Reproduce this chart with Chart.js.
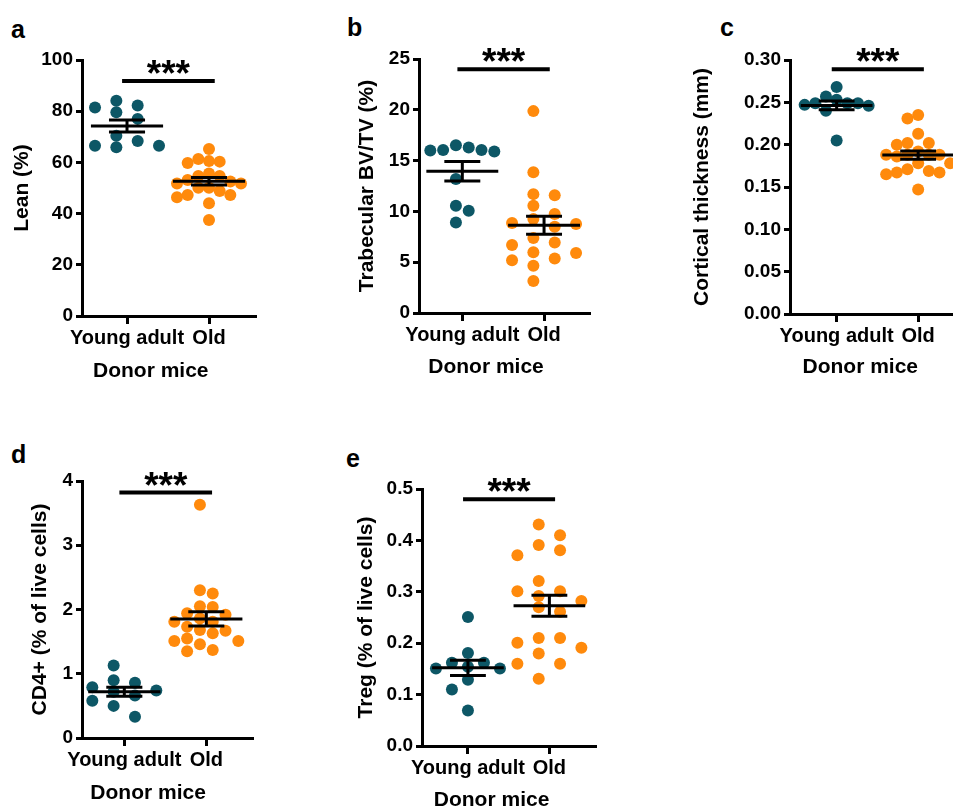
<!DOCTYPE html>
<html>
<head>
<meta charset="utf-8">
<script src="https://cdn.jsdelivr.net/npm/chart.js@4.4.1/dist/chart.umd.min.js"></script>
<style>
  body { margin: 0; width: 953px; height: 808px; overflow: hidden; background: #fff; position: relative; font-family: "Liberation Sans", Arial, sans-serif; }
  .panel { position: absolute; }
  .letter { position: absolute; font-weight: bold; font-size: 25px; color: #000; line-height: 1; }
</style>
</head>
<body>
<div class="letter" style="left:11px;top:17px">a</div>
<div class="letter" style="left:347px;top:15px">b</div>
<div class="letter" style="left:720px;top:15px">c</div>
<div class="letter" style="left:11px;top:442px">d</div>
<div class="letter" style="left:346px;top:446px">e</div>

<div class="panel" style="left:0px;top:20px"><canvas id="chartA" width="265" height="370"></canvas></div>
<div class="panel" style="left:340px;top:20px"><canvas id="chartB" width="260" height="370"></canvas></div>
<div class="panel" style="left:680px;top:20px"><canvas id="chartC" width="295" height="370"></canvas></div>
<div class="panel" style="left:0px;top:440px"><canvas id="chartD" width="262" height="370"></canvas></div>
<div class="panel" style="left:340px;top:440px"><canvas id="chartE" width="265" height="380"></canvas></div>

<script>
// data
var groups = ["Young adult", "Old"];
var xTitle = "Donor mice";

var leanYoung = [82.2, 81.4, 84.1, 77.0, 79.6, 70.4, 65.9, 68.4, 66.5, 66.5];
var leanOld = [65.2, 60.3, 61.3, 59.8, 60.5, 54.7, 55.7, 54.7, 50.1, 52.5, 51.8, 53.1, 51.8, 50.1, 47.3, 46.4, 48.8, 47.3, 44.0, 37.5];
var leanTicks = [0, 20, 40, 60, 80, 100];

var bvtvYoung = [16.0, 16.05, 15.9, 16.3, 16.5, 16.05, 13.2, 10.55, 10.07, 8.9];
var bvtvOld = [19.87, 13.85, 11.7, 11.6, 10.56, 9.74, 8.85, 9.24, 8.5, 8.75, 7.37, 6.7, 6.94, 5.99, 5.9, 5.2, 5.36, 4.64, 3.16];
var bvtvTicks = [0, 5, 10, 15, 20, 25];

var ctYoung = [0.249, 0.257, 0.268, 0.253, 0.246, 0.240, 0.249, 0.249, 0.247, 0.205];
var ctOld = [0.231, 0.235, 0.213, 0.202, 0.200, 0.202, 0.188, 0.188, 0.192, 0.188, 0.188, 0.178, 0.178, 0.169, 0.167, 0.167, 0.165, 0.171, 0.147, 0.186];
var ctTicks = [0, 0.05, 0.10, 0.15, 0.20, 0.25, 0.30];

var cd4Young = [0.90, 0.72, 0.79, 1.13, 0.58, 0.50, 0.33, 0.86, 0.66, 0.74];
var cd4Old = [2.30, 2.25, 2.04, 2.05, 1.92, 1.94, 1.81, 1.86, 1.81, 1.63, 1.68, 1.73, 1.67, 1.55, 1.51, 1.46, 1.51, 1.37, 1.35, 3.63];
var cd4Ticks = [0, 1, 2, 3, 4];

var tregYoung = [0.251, 0.162, 0.162, 0.181, 0.151, 0.151, 0.154, 0.129, 0.110, 0.069];
var tregOld = [0.431, 0.410, 0.391, 0.381, 0.371, 0.321, 0.301, 0.301, 0.292, 0.282, 0.270, 0.261, 0.201, 0.210, 0.210, 0.191, 0.180, 0.160, 0.160, 0.131];
var tregTicks = [0, 0.1, 0.2, 0.3, 0.4, 0.5];

// height of the significance bar, in axis units
var sigLevels = [91.8, 24.0, 0.289, 3.82, 0.48];

var teal = "#0d5766";
var orange = "#ff8a0c";
var fontFamily = "'Liberation Sans', Arial, sans-serif";

// mean and SEM lines over the dots
var meanSemPlugin = {
  id: "meanSem",
  afterDatasetsDraw: function (chart) {
    var ctx = chart.ctx;
    var xs = chart.scales.x;
    var ys = chart.scales.y;
    ctx.save();
    ctx.strokeStyle = "#000";
    ctx.lineWidth = 3;
    chart.data.datasets.forEach(function (ds, i) {
      var vals = ds.values;
      var n = vals.length;
      var mean = vals.reduce(function (a, b) { return a + b; }, 0) / n;
      var sd = Math.sqrt(vals.reduce(function (a, b) { return a + (b - mean) * (b - mean); }, 0) / (n - 1));
      var sem = sd / Math.sqrt(n);
      var cx = i + 1;
      var yM = ys.getPixelForValue(mean);
      var yHi = ys.getPixelForValue(mean + sem);
      var yLo = ys.getPixelForValue(mean - sem);
      ctx.beginPath();
      ctx.moveTo(xs.getPixelForValue(cx - 0.44), yM);
      ctx.lineTo(xs.getPixelForValue(cx + 0.44), yM);
      ctx.moveTo(xs.getPixelForValue(cx), yHi);
      ctx.lineTo(xs.getPixelForValue(cx), yLo);
      ctx.moveTo(xs.getPixelForValue(cx - 0.22), yHi);
      ctx.lineTo(xs.getPixelForValue(cx + 0.22), yHi);
      ctx.moveTo(xs.getPixelForValue(cx - 0.22), yLo);
      ctx.lineTo(xs.getPixelForValue(cx + 0.22), yLo);
      ctx.stroke();
    });
    ctx.restore();
  }
};

// significance bar with stars
var sigPlugin = {
  id: "sig",
  afterDraw: function (chart, args, opts) {
    var ctx = chart.ctx;
    var xs = chart.scales.x;
    var y = chart.scales.y.getPixelForValue(opts.level);
    var x0 = xs.getPixelForValue(0.94);
    var x1 = xs.getPixelForValue(2.07);
    ctx.save();
    ctx.strokeStyle = "#000";
    ctx.lineWidth = 4;
    ctx.beginPath();
    ctx.moveTo(x0, y);
    ctx.lineTo(x1, y);
    ctx.stroke();
    ctx.fillStyle = "#000";
    ctx.font = "bold 37px " + fontFamily;
    ctx.textAlign = "center";
    ctx.textBaseline = "alphabetic";
    ctx.fillText("***", (x0 + x1) / 2, y + 5);
    ctx.restore();
  }
};

// x title, set a bit left of the middle as in the figure
var xTitlePlugin = {
  id: "xTitle",
  afterDraw: function (chart, args, opts) {
    var ctx = chart.ctx;
    ctx.save();
    ctx.fillStyle = "#000";
    ctx.font = "bold 21px " + fontFamily;
    ctx.textAlign = "center";
    ctx.textBaseline = "middle";
    ctx.fillText(xTitle, chart.scales.x.getPixelForValue(1.29), chart.height - opts.offset);
    ctx.restore();
  }
};

// scatter dot columns: fixed total spread, as many columns as the densest row needs
function swarm(chart) {
  var xs = chart.scales.x;
  var ys = chart.scales.y;
  var unit = xs.getPixelForValue(2) - xs.getPixelForValue(1);
  var spread = 64;
  var d = 11.2;
  chart.data.datasets.forEach(function (ds, gi) {
    var vals = ds.values;
    var order = vals.map(function (v, i) { return i; });
    order.sort(function (a, b) { return vals[b] - vals[a]; });
    for (var cols = 1; cols <= 12; cols++) {
      var step = cols > 1 ? spread / (cols - 1) : 0;
      var slots = [];
      for (var c = 0; c < cols; c++) slots.push((c - (cols - 1) / 2) * step);
      slots.sort(function (a, b) { return Math.abs(a) - Math.abs(b) || a - b; });
      var used = slots.map(function () { return []; });
      var pos = [];
      var fits = order.every(function (i) {
        var y = ys.getPixelForValue(vals[i]);
        for (var k = 0; k < slots.length; k++) {
          var free = used[k].every(function (py) { return Math.abs(py - y) >= d; });
          if (free) {
            used[k].push(y);
            pos[i] = slots[k];
            return true;
          }
        }
        return false;
      });
      if (fits) {
        vals.forEach(function (v, i) { ds.data[i].x = gi + 1 + pos[i] / unit; });
        break;
      }
    }
  });
  chart.update("none");
}

function makePanel(id, young, old, ticks, decimals, yTitle, level, box) {
  var tickFont = { family: fontFamily, size: 19, weight: "bold" };
  var chart = new Chart(document.getElementById(id), {
    type: "scatter",
    data: {
      datasets: [
        { values: young, data: young.map(function (v) { return { x: 1, y: v }; }), backgroundColor: teal },
        { values: old, data: old.map(function (v) { return { x: 2, y: v }; }), backgroundColor: orange }
      ]
    },
    options: {
      responsive: false,
      animation: false,
      events: [],
      layout: { padding: { top: box.padTop, right: box.padRight, left: 0, bottom: 0 } },
      elements: { point: { radius: 6, hoverRadius: 6, borderWidth: 0 } },
      plugins: {
        legend: { display: false },
        tooltip: { enabled: false },
        sig: { level: level },
        xTitle: { offset: box.xTitleOff }
      },
      scales: {
        x: {
          type: "linear",
          min: box.xMin,
          max: box.xMax,
          afterBuildTicks: function (s) { s.ticks = [{ value: 1 }, { value: 2 }]; },
          afterFit: function (s) { s.height = box.xH; },
          ticks: {
            callback: function (v, i) { return groups[i]; },
            font: { family: fontFamily, size: 20, weight: "bold" },
            color: "#000",
            padding: 2,
            maxRotation: 0,
            autoSkip: false
          },
          grid: { drawOnChartArea: false, drawTicks: true, tickLength: 8, color: "#000", lineWidth: 3 },
          border: { display: true, color: "#000", width: 3 }
        },
        y: {
          min: ticks[0],
          max: ticks[ticks.length - 1],
          afterBuildTicks: function (s) { s.ticks = ticks.map(function (v) { return { value: v }; }); },
          afterFit: function (s) { s.width = box.yW; },
          ticks: {
            callback: function (v) { return v.toFixed(decimals); },
            font: tickFont,
            color: "#000",
            padding: 3
          },
          grid: { drawOnChartArea: false, drawTicks: true, tickLength: 6, color: "#000", lineWidth: 3 },
          border: { display: true, color: "#000", width: 3 },
          title: {
            display: true,
            text: yTitle,
            color: "#000",
            font: { family: fontFamily, size: 21, weight: "bold" },
            padding: { top: box.yTitlePad, bottom: 0 }
          }
        }
      }
    },
    plugins: [meanSemPlugin, sigPlugin, xTitlePlugin]
  });
  swarm(chart);
  return chart;
}

makePanel("chartA", leanYoung, leanOld, leanTicks, 0, "Lean (%)", sigLevels[0],
  { padTop: 40, padRight: 10, yW: 82, xH: 74, yTitlePad: 10, xTitleOff: 19, xMin: 0.451, xMax: 2.561 });
makePanel("chartB", bvtvYoung, bvtvOld, bvtvTicks, 0, "Trabecular BV/TV (%)", sigLevels[1],
  { padTop: 39, padRight: 11, yW: 79, xH: 77, yTitlePad: 15, xTitleOff: 23, xMin: 0.47, xMax: 2.55 });
makePanel("chartC", ctYoung, ctOld, ctTicks, 2, "Cortical thickness (mm)", sigLevels[2],
  { padTop: 40, padRight: 12, yW: 110, xH: 76, yTitlePad: 10, xTitleOff: 23, xMin: 0.428, xMax: 2.55 });
makePanel("chartD", cd4Young, cd4Old, cd4Ticks, 0, "CD4+ (% of live cells)", sigLevels[3],
  { padTop: 41, padRight: 10, yW: 82, xH: 72, yTitlePad: 28, xTitleOff: 17, xMin: 0.484, xMax: 2.557 });
makePanel("chartE", tregYoung, tregOld, tregTicks, 1, "Treg (% of live cells)", sigLevels[4],
  { padTop: 49, padRight: 10, yW: 82, xH: 74, yTitlePad: 14, xTitleOff: 20, xMin: 0.436, xMax: 2.56 });
</script>
</body>
</html>
